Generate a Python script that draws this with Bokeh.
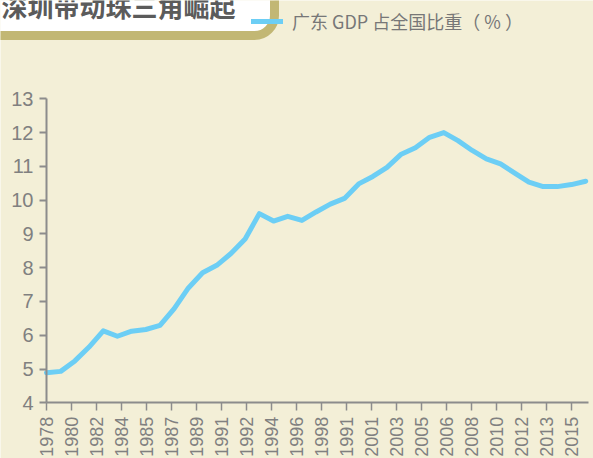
import math
from bokeh.plotting import figure
from bokeh.models import (Range1d, FixedTicker, Label, Legend, LegendItem)
from bokeh.embed import file_html
from bokeh.resources import INLINE

# ---- data ----
years = list(range(1978, 2017))
share = [4.89, 4.93, 5.24, 5.65, 6.13, 5.97, 6.12, 6.17, 6.29, 6.79,
         7.40, 7.85, 8.07, 8.42, 8.85, 9.60, 9.38, 9.52, 9.40, 9.65,
         9.88, 10.05, 10.48, 10.70, 10.97, 11.36, 11.55, 11.86, 12.00, 11.76,
         11.47, 11.22, 11.07, 10.80, 10.53, 10.40, 10.40, 10.46, 10.56]
tick_labels = ["1978", "1980", "1982", "1984", "1985", "1987", "1989", "1991",
               "1992", "1994", "1996", "1998", "1991", "2001", "2003", "2005",
               "2006", "2008", "2010", "2012", "2013", "2015"]
y_ticks = [4, 5, 6, 7, 8, 9, 10, 11, 12, 13]
title_text = "深圳带动珠三角崛起"
series_name = "广东 GDP 占全国比重（ % ）"

# ---- styling ----
BG = "#F3EFD7"
BLUE = "#6CCEF5"
AX = "#8C8C8C"
LBL = "#808080"
OLIVE = "#C2B774"

W, H = 593, 458
# where the axes sit inside the canvas (pixels)
X0_PX, PX_PER_YEAR = 46.0, 25.0 * 21 / 37
Y4_PX, PX_PER_UNIT = 402.3, 33.78

x_lo = years[0] - X0_PX / PX_PER_YEAR
x_hi = years[0] + (W - X0_PX) / PX_PER_YEAR
y_lo = y_ticks[0] - (H - Y4_PX) / PX_PER_UNIT
y_hi = y_ticks[0] + Y4_PX / PX_PER_UNIT

first_tick, last_tick = 1978, 2015
n = len(tick_labels)
tick_pos = [first_tick + i * (last_tick - first_tick) / (n - 1) for i in range(n)]

p = figure(width=W, height=H,
           x_range=Range1d(x_lo, x_hi), y_range=Range1d(y_lo, y_hi),
           output_backend="svg", toolbar_location=None,
           background_fill_color=BG, border_fill_color=BG,
           outline_line_color=None,
           min_border_left=0, min_border_right=0,
           min_border_top=0, min_border_bottom=0)

line = p.line(years, share, line_width=5, line_color=BLUE,
              line_join="round", line_cap="round")

p.xgrid.visible = False
p.ygrid.visible = False

for ax in (p.xaxis, p.yaxis):
    ax.axis_line_color = AX
    ax.axis_line_width = 2
    ax.major_tick_line_color = AX
    ax.major_tick_in = 0
    ax.minor_tick_line_color = None

p.yaxis.fixed_location = years[0]
p.yaxis.bounds = (y_ticks[0], y_ticks[-1])
p.yaxis.ticker = FixedTicker(ticks=y_ticks)
p.yaxis.major_tick_out = 7
p.yaxis.major_tick_line_width = 2
p.yaxis.major_label_standoff = 6
p.yaxis.major_label_text_font = "Liberation Sans"
p.yaxis.major_label_text_font_size = "20px"
p.yaxis.major_label_text_color = LBL

p.xaxis.fixed_location = y_ticks[0]
p.xaxis.bounds = (years[0], years[-1] + 0.2)
p.xaxis.ticker = FixedTicker(ticks=tick_pos)
p.xaxis.major_label_overrides = {t: s for t, s in zip(tick_pos, tick_labels)}
p.xaxis.major_tick_out = 8
p.xaxis.major_tick_line_width = 1.5
p.xaxis.major_label_standoff = 6
p.xaxis.major_label_orientation = math.pi / 2
p.xaxis.major_label_text_font = "Liberation Sans"
p.xaxis.major_label_text_font_size = "18px"
p.xaxis.major_label_text_color = LBL

# title box
p.add_layout(Label(x=-19, y=H - 0.5, x_units="screen", y_units="screen",
                   text=title_text, text_font="Noto Sans CJK SC",
                   text_font_style="bold", text_font_size="26px",
                   text_color="#5B5B5B", text_align="left",
                   text_baseline="middle",
                   background_fill_color="white",
                   border_line_color=OLIVE, border_line_width=9,
                   padding=dict(left=20, right=39, top=20, bottom=12),
                   border_radius=dict(top_left=0, top_right=0,
                                      bottom_right=20, bottom_left=0)))

# legend
legend = Legend(items=[LegendItem(label=series_name, renderers=[line])],
                location=(251, H - 33.5), orientation="horizontal",
                glyph_width=32, glyph_height=20, label_height=20,
                label_standoff=9, padding=0, margin=0, spacing=0,
                label_text_font="Noto Sans CJK SC",
                label_text_font_size="18px", label_text_color="#777777",
                background_fill_alpha=0, border_line_alpha=0)
p.add_layout(legend, "center")

html = file_html(p, INLINE)
open("out.html", "w").write(html)
